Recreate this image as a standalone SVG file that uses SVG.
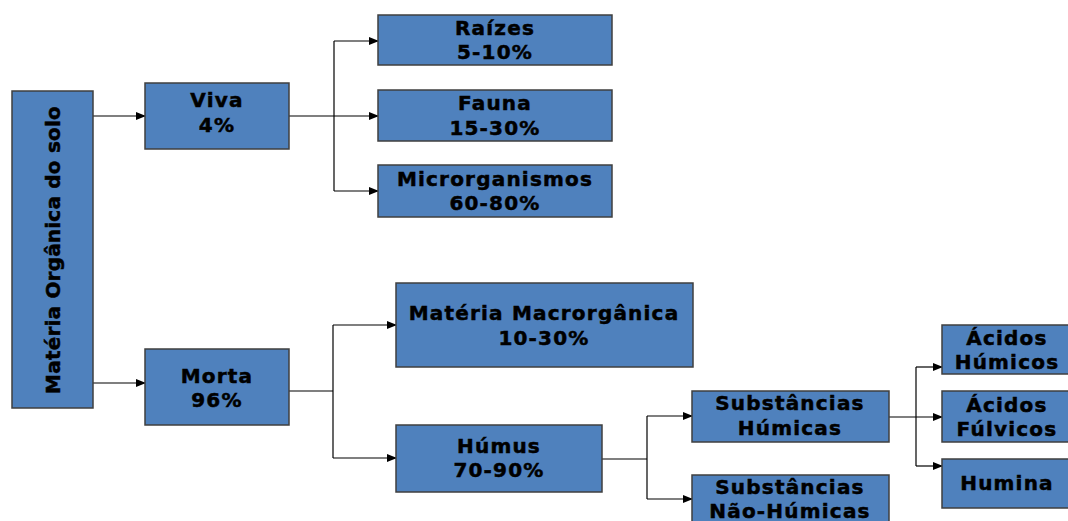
<svg xmlns="http://www.w3.org/2000/svg" width="1068" height="521" viewBox="0 0 1068 521">
<defs>
<marker id="arr" markerWidth="10" markerHeight="8" refX="9" refY="4" orient="auto" markerUnits="userSpaceOnUse">
<path d="M0,0 L10,4 L0,8 Z" fill="#000"/>
</marker>
<style>
.box{fill:#4F81BD;stroke:#3F3F3F;stroke-width:1.5}
.t{font-family:"DejaVu Sans","Verdana",sans-serif;font-weight:bold;font-size:20px;fill:#000;stroke:#000;stroke-width:0.5;text-anchor:middle;letter-spacing:1.2px}
.r{letter-spacing:0.2px}
.c{fill:none;stroke:#000;stroke-width:1.2}
</style>
</defs>
<rect width="1068" height="521" fill="#fff"/>
<g id="connectors">
<path class="c" d="M93,116 H145" marker-end="url(#arr)"/>
<path class="c" d="M93,383 H145" marker-end="url(#arr)"/>
<path class="c" d="M289,116 H378" marker-end="url(#arr)"/>
<path class="c" d="M334,41 V191"/>
<path class="c" d="M334,41 H378" marker-end="url(#arr)"/>
<path class="c" d="M334,191 H378" marker-end="url(#arr)"/>
<path class="c" d="M289,391 H333"/>
<path class="c" d="M333,325 V458"/>
<path class="c" d="M333,325 H396" marker-end="url(#arr)"/>
<path class="c" d="M333,458 H396" marker-end="url(#arr)"/>
<path class="c" d="M602,459 H647"/>
<path class="c" d="M647,416 V499"/>
<path class="c" d="M647,416 H692" marker-end="url(#arr)"/>
<path class="c" d="M647,499 H692" marker-end="url(#arr)"/>
<path class="c" d="M889,417 H942" marker-end="url(#arr)"/>
<path class="c" d="M916,367 V466"/>
<path class="c" d="M916,367 H942" marker-end="url(#arr)"/>
<path class="c" d="M916,466 H942" marker-end="url(#arr)"/>
</g>
<g id="root">
<rect class="box" x="12" y="91" width="81" height="317"/>
<text class="t r" transform="translate(60,250) rotate(-90)">Matéria Orgânica do solo</text>
</g>
<g id="viva">
<rect class="box" x="145" y="83" width="144" height="66"/>
<text class="t" x="217" y="107">Viva</text>
<text class="t" x="217" y="132">4%</text>
</g>
<g id="morta">
<rect class="box" x="145" y="349" width="144" height="76"/>
<text class="t" x="217" y="383">Morta</text>
<text class="t" x="217" y="407">96%</text>
</g>
<g id="raizes">
<rect class="box" x="378" y="15" width="234" height="50"/>
<text class="t" x="495" y="35">Raízes</text>
<text class="t" x="495" y="59">5-10%</text>
</g>
<g id="fauna">
<rect class="box" x="378" y="90" width="234" height="51"/>
<text class="t" x="495" y="110">Fauna</text>
<text class="t" x="495" y="135">15-30%</text>
</g>
<g id="micro">
<rect class="box" x="378" y="165" width="234" height="52"/>
<text class="t" x="495" y="186">Microrganismos</text>
<text class="t" x="495" y="210">60-80%</text>
</g>
<g id="macro">
<rect class="box" x="396" y="283" width="297" height="84"/>
<text class="t" x="544" y="320">Matéria Macrorgânica</text>
<text class="t" x="544" y="345">10-30%</text>
</g>
<g id="humus">
<rect class="box" x="396" y="425" width="206" height="67"/>
<text class="t" x="499" y="453">Húmus</text>
<text class="t" x="499" y="477">70-90%</text>
</g>
<g id="sh">
<rect class="box" x="692" y="391" width="197" height="51"/>
<text class="t" x="790" y="410">Substâncias</text>
<text class="t" x="790" y="435">Húmicas</text>
</g>
<g id="snh">
<rect class="box" x="692" y="475" width="197" height="60"/>
<text class="t" x="790" y="494">Substâncias</text>
<text class="t" x="790" y="518">Não-Húmicas</text>
</g>
<g id="ah">
<rect class="box" x="942" y="325" width="130" height="49"/>
<text class="t" x="1007" y="345">Ácidos</text>
<text class="t" x="1007" y="369">Húmicos</text>
</g>
<g id="af">
<rect class="box" x="942" y="391" width="130" height="51"/>
<text class="t" x="1007" y="412">Ácidos</text>
<text class="t" x="1007" y="436">Fúlvicos</text>
</g>
<g id="humina">
<rect class="box" x="942" y="459" width="130" height="49"/>
<text class="t" x="1007" y="490">Humina</text>
</g>
</svg>
